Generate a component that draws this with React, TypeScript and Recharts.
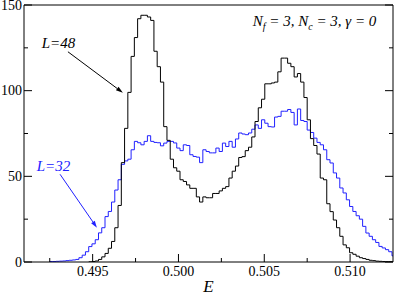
import React from 'react';
import { LineChart, Line, XAxis, YAxis, ReferenceLine, ReferenceDot } from 'recharts';

// Histogram bins (energy E)
const BIN_START = 0.49249;
const BIN_WIDTH = 0.00019;
const E_MIN = 0.491;
const E_MAX = 0.5125;

// L=32 (blue) counts, starting at bin 0
const countsL32 = [
  0.3, 0.3, 0.4, 0.5, 0.6, 0.8, 1.0, 1.2, 1.5, 2.5,
  4, 6, 9, 10.6, 13, 17, 20, 26.5, 29.5, 35,
  42, 48, 57, 59, 60, 65.5, 70.4, 69.6, 68.4, 70.4,
  73.7, 70.4, 69.8, 69.6, 67.8, 69.4, 70.4, 70.4, 69.5, 66.5,
  65, 68.4, 68, 62.6, 61.6, 61.2, 58, 65.5, 64.5, 63.7,
  63.7, 66.5, 64.5, 69.4, 67.4, 70.4, 67, 71.8, 75.3, 74.7,
  74.3, 75.3, 77.5, 80, 78, 83, 81, 79, 78.8, 84.6,
  85, 88, 88, 89, 87.3, 80, 89.3, 82.6, 82, 77,
  75.6, 72.3, 69.8, 68.4, 65.5, 59.7, 57.8, 52, 49, 43.2,
  40.3, 36.3, 32.4, 29.5, 27, 25, 20.8, 16.9, 15, 13,
  11.4, 9.1, 8.2, 7.2, 6.0, 3.6,
];

// L=48 (black) counts, starting at bin 12
const FIRST_BIN_L48 = 12;
const countsL48 = [
  0.1, 0.3, 0.6, 1.5, 3, 5, 8, 12,
  20, 33, 58, 78, 99, 120, 131, 142, 144, 144,
  143, 141, 123, 114, 105, 79, 71, 60, 55, 53,
  48, 47, 45, 43, 43, 38, 35, 38, 37.5, 37.5,
  40, 40, 41.5, 43, 44, 49, 53, 56, 61, 61.5,
  65, 67, 73, 82, 90, 95, 104, 104, 104.5, 105,
  111, 119, 119, 116, 114, 108, 110, 105, 96, 83,
  72, 68, 63, 49, 48, 34, 29.4, 24.5, 20, 15,
  10, 8.3, 5.4, 4.5, 3.4, 2.5, 2, 1.5, 1, 0.8,
  0.5, 0.4, 0.3, 0.2, 0.2, 0.1,
];

const xMajorTicks = [0.495, 0.5, 0.505, 0.51];
const xMinorTicks = [0.4925, 0.4975, 0.5025, 0.5075];
const yMajorTicks = [0, 50, 100, 150];
const yMinorTicks = [25, 75, 125];

const FONT = "'Liberation Serif', 'Times New Roman', Times, 'DejaVu Serif', serif";
const BLUE = '#2020ff';

function toSteps(counts: number[], firstBin: number) {
  const pts = counts.map((c, i) => ({
    E: +(BIN_START + (firstBin + i) * BIN_WIDTH).toFixed(6),
    n: c,
  }));
  pts.push({ E: E_MAX, n: counts[counts.length - 1] });
  return pts;
}

const dataL32 = toSteps(countsL32, 0);
const dataL48 = toSteps(countsL48, FIRST_BIN_L48);

const isMajor = (arr: number[], v: number) => arr.some((a) => Math.abs(a - v) < 1e-9);

const serif: React.CSSProperties = { fontFamily: FONT };
const serifItalic: React.CSSProperties = { fontFamily: FONT, fontStyle: 'italic' };

const BottomTick = (p: any) => {
  const v = p.payload.value;
  const major = isMajor(xMajorTicks, v);
  return (
    <g>
      <line x1={p.x} x2={p.x} y1={p.y} y2={p.y - (major ? 8 : 4)} stroke="#000" strokeWidth={1} />
      {major && (
        <text x={p.x} y={p.y + 14} textAnchor="middle" style={serif} fontSize={14} fill="#000">
          {v.toFixed(3)}
        </text>
      )}
    </g>
  );
};

const TopTick = (p: any) => {
  const v = p.payload.value;
  const major = isMajor(xMajorTicks, v);
  return <line x1={p.x} x2={p.x} y1={p.y} y2={p.y + (major ? 8 : 4)} stroke="#000" strokeWidth={1} />;
};

const LeftTick = (p: any) => {
  const v = p.payload.value;
  const major = isMajor(yMajorTicks, v);
  return (
    <g>
      <line x1={p.x} x2={p.x + (major ? 8 : 4)} y1={p.y} y2={p.y} stroke="#000" strokeWidth={1} />
      {major && (
        <text x={p.x - 2} y={p.y + 4.7} textAnchor="end" style={serif} fontSize={14} fill="#000">
          {v}
        </text>
      )}
    </g>
  );
};

const RightTick = (p: any) => {
  const v = p.payload.value;
  const major = isMajor(yMajorTicks, v);
  return <line x1={p.x} x2={p.x - (major ? 8 : 4)} y1={p.y} y2={p.y} stroke="#000" strokeWidth={1} />;
};

const arrowShape = (color: string) => (p: any) => {
  const { x1, y1, x2, y2 } = p;
  const dx = x2 - x1;
  const dy = y2 - y1;
  const len = Math.sqrt(dx * dx + dy * dy) || 1;
  const ux = dx / len;
  const uy = dy / len;
  const hl = 7;
  const hw = 2.2;
  const bx = x2 - ux * hl;
  const by = y2 - uy * hl;
  return (
    <g>
      <line x1={x1} y1={y1} x2={bx} y2={by} stroke={color} strokeWidth={1} />
      <polygon
        points={`${x2},${y2} ${bx - uy * hw},${by + ux * hw} ${bx + uy * hw},${by - ux * hw}`}
        fill={color}
      />
    </g>
  );
};

const textShape = (color: string, content: React.ReactNode) => (p: any) => (
  <text x={p.cx} y={p.cy} style={serifItalic} fontSize={15} fill={color}>
    {content}
  </text>
);

const AxisTitle = (p: any) => {
  const vb = p.viewBox;
  return (
    <text x={vb.x + vb.width / 2} y={vb.y + 30} textAnchor="middle" style={serifItalic} fontSize={17} fill="#000">
      E
    </text>
  );
};

export default function App() {
  const allXTicks = [...xMajorTicks, ...xMinorTicks].sort((a, b) => a - b);
  const allYTicks = [...yMajorTicks, ...yMinorTicks].sort((a, b) => a - b);
  return (
    <div style={{ position: 'absolute', left: 0, top: 0, background: '#fff' }}>
      <LineChart width={395} height={295} margin={{ top: 4, right: 1, left: 0, bottom: 0 }}>
        <XAxis
          xAxisId="b"
          dataKey="E"
          type="number"
          domain={[E_MIN, E_MAX]}
          allowDataOverflow
          ticks={allXTicks}
          interval={0}
          tickLine={false}
          tickSize={0}
          tickMargin={0}
          height={33}
          axisLine={{ stroke: '#000' }}
          tick={<BottomTick />}
          label={<AxisTitle />}
        />
        <XAxis
          xAxisId="t"
          orientation="top"
          type="number"
          domain={[E_MIN, E_MAX]}
          allowDataOverflow
          ticks={allXTicks}
          interval={0}
          tickLine={false}
          tickSize={0}
          tickMargin={0}
          height={1}
          axisLine={{ stroke: '#000' }}
          tick={<TopTick />}
        />
        <YAxis
          yAxisId="l"
          type="number"
          domain={[0, 150]}
          allowDataOverflow
          ticks={allYTicks}
          interval={0}
          tickLine={false}
          tickSize={0}
          tickMargin={0}
          width={24}
          axisLine={{ stroke: '#000' }}
          tick={<LeftTick />}
        />
        <YAxis
          yAxisId="r"
          orientation="right"
          type="number"
          domain={[0, 150]}
          allowDataOverflow
          ticks={allYTicks}
          interval={0}
          tickLine={false}
          tickSize={0}
          tickMargin={0}
          width={1}
          axisLine={{ stroke: '#000' }}
          tick={<RightTick />}
        />
        <Line
          xAxisId="b"
          yAxisId="l"
          data={dataL32}
          dataKey="n"
          type="stepAfter"
          stroke={BLUE}
          strokeWidth={1}
          dot={false}
          activeDot={false}
          isAnimationActive={false}
        />
        <Line
          xAxisId="b"
          yAxisId="l"
          data={dataL48}
          dataKey="n"
          type="stepAfter"
          stroke="#000"
          strokeWidth={1}
          dot={false}
          activeDot={false}
          isAnimationActive={false}
        />
        <ReferenceLine
          xAxisId="b"
          yAxisId="l"
          segment={[{ x: 0.49356, y: 122.7 }, { x: 0.49676, y: 98.8 }]}
          shape={arrowShape('#000')}
        />
        <ReferenceLine
          xAxisId="b"
          yAxisId="l"
          segment={[{ x: 0.4931, y: 51.2 }, { x: 0.49525, y: 20 }]}
          shape={arrowShape(BLUE)}
        />
        <ReferenceDot xAxisId="b" yAxisId="l" x={0.49203} y={124.9} r={0} shape={textShape('#000', 'L=48')} />
        <ReferenceDot xAxisId="b" yAxisId="l" x={0.49174} y={52.9} r={0} shape={textShape(BLUE, 'L=32')} />
        <ReferenceDot
          xAxisId="b"
          yAxisId="l"
          x={0.50433}
          y={137.9}
          r={0}
          shape={textShape(
            '#000',
            <>
              <tspan>N</tspan>
              <tspan fontSize={10} dy={4}>f</tspan>
              <tspan dy={-4}> = 3, N</tspan>
              <tspan fontSize={10} dy={4}>c</tspan>
              <tspan dy={-4}> = 3, γ = 0</tspan>
            </>
          )}
        />
      </LineChart>
    </div>
  );
}
